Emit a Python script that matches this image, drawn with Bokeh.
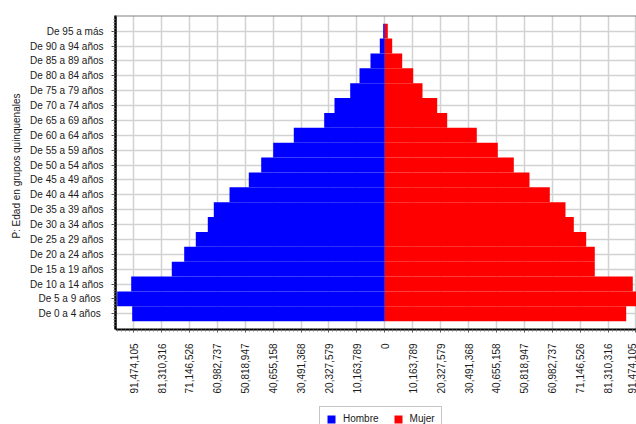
import math
from bokeh.plotting import figure
from bokeh.models import (Range1d, FixedTicker, CustomJSTickFormatter, Legend, LegendItem,
                          Span, BoxAnnotation, Title)
from bokeh.embed import file_html
from bokeh.resources import INLINE

# ---- data ----
age_groups = ["De 0  a 4 años", "De 5  a 9 años", "De 10 a 14 años", "De 15 a 19 años",
              "De 20 a 24 años", "De 25 a 29 años", "De 30 a 34 años", "De 35 a 39 años",
              "De 40 a 44 años", "De 45 a 49 años", "De 50 a 54 años", "De 55 a 59 años",
              "De 60 a 64 años", "De 65 a 69 años", "De 70 a 74 años", "De 75 a 79 años",
              "De 80 a 84 años", "De 85 a 89 años", "De 90 a 94 años", "De 95 a más"]
hombre = [91990000, 97450000, 92350000, 77570000, 73050000, 68830000, 64460000, 62270000,
          56550000, 49530000, 45010000, 40640000, 33140000, 22070000, 18320000, 12600000,
          9210000, 5210000, 1820000, 580000]
mujer = [87910000, 93950000, 90310000, 76470000, 76470000, 73340000, 68830000, 65800000,
         60090000, 52690000, 46980000, 41150000, 33500000, 22720000, 19080000, 13730000,
         10340000, 6340000, 2690000, 1090000]
tick_step = 10163789.44
tick_labels = ["0", "10,163,789", "20,327,579", "30,491,368", "40,655,158", "50,818,947",
               "60,982,737", "71,146,526", "81,310,316", "91,474,105"]
y_title = "P: Edad en grupos quinquenales"
series_names = ["Hombre", "Mujer"]
series_colors = ["#0000FF", "#FF0000"]

FONT = "Liberation Sans"
idx = list(range(len(age_groups)))
Y_LO, Y_HI = -1.05, 20.05          # plotted band of the pyramid
Y_START = -7.44                     # extra room below for tick labels + legend

p = figure(width=636, height=424, output_backend="svg", toolbar_location=None,
           x_range=Range1d(-98069000, 91660000), y_range=Range1d(Y_START, Y_HI),
           min_border_left=115, min_border_right=0, min_border_top=15, min_border_bottom=0)

r_h = p.hbar(y=idx, left=[-v for v in hombre], right=0, height=1.0,
             color=series_colors[0], line_color=None)
r_m = p.hbar(y=idx, left=0, right=mujer, height=1.0,
             color=series_colors[1], line_color=None)

p.outline_line_color = None
p.background_fill_color = "white"
p.border_fill_color = "white"

# x axis (fixed at the bottom of the pyramid band)
nt = len(tick_labels)
xt = [k * tick_step for k in range(-(nt - 1), nt)]
xminor = []
for k in range(-(nt), nt):
    for j in range(1, 7):
        xminor.append((k + j / 7.0) * tick_step)
p.xaxis.fixed_location = Y_LO
p.xaxis.ticker = FixedTicker(ticks=xt, minor_ticks=xminor)
p.xaxis.formatter = CustomJSTickFormatter(args=dict(labels=tick_labels, step=tick_step),
    code="const i = Math.round(Math.abs(tick)/step); return labels[i];")
p.xaxis.major_label_orientation = math.pi / 2
p.xaxis.major_label_text_font = FONT
p.xaxis.major_label_text_font_size = "10px"
p.xaxis.major_label_text_color = "#1a1a1a"
p.xaxis.major_label_standoff = 11
p.xaxis.axis_line_color = "black"
p.xaxis.axis_line_width = 2
p.xaxis.major_tick_out = 3
p.xaxis.major_tick_in = 0
p.xaxis.minor_tick_out = 2
p.xaxis.minor_tick_in = 0
p.xaxis.major_tick_line_color = "#555555"
p.xaxis.minor_tick_line_color = "#777777"

# y axis
yminor = []
for i in range(-1, len(age_groups) + 1):
    for j in range(1, 5):
        yminor.append(i + j / 5.0)
p.yaxis.bounds = (Y_LO, Y_HI)
p.yaxis.ticker = FixedTicker(ticks=idx, minor_ticks=yminor)
p.yaxis.major_label_overrides = {i: lab for i, lab in enumerate(age_groups)}
p.yaxis.major_label_text_font = FONT
p.yaxis.major_label_text_font_size = "10px"
p.yaxis.major_label_text_color = "#1a1a1a"
p.yaxis.major_label_standoff = 8
p.yaxis.axis_line_color = "black"
p.yaxis.axis_line_width = 2.5
p.yaxis.major_tick_out = 4
p.yaxis.major_tick_in = 0
p.yaxis.minor_tick_out = 2
p.yaxis.minor_tick_in = 0
p.yaxis.major_tick_line_color = "#555555"
p.yaxis.minor_tick_line_color = "#777777"

# y axis title, placed along the pyramid band
p.add_layout(Title(text=y_title, align="right", offset=78, standoff=12,
                   text_font=FONT, text_font_size="10px", text_font_style="normal",
                   text_color="#1a1a1a"), "left")

# grid
p.xgrid.ticker = FixedTicker(ticks=xt)
p.ygrid.ticker = FixedTicker(ticks=idx)
for g in (p.xgrid, p.ygrid):
    g.grid_line_color = "#d2d2d2"
    g.grid_line_width = 1.5

# white cover below the pyramid band (hides grid lines under the x axis)
p.add_layout(BoxAnnotation(top=Y_LO, fill_color="white", fill_alpha=1.0,
                           line_color=None, level="underlay"))

# top border
p.add_layout(Span(location=Y_HI, dimension="width", line_color="#808080", line_width=2))

legend = Legend(items=[LegendItem(label=series_names[0], renderers=[r_h]),
                       LegendItem(label=series_names[1], renderers=[r_m])],
                orientation="horizontal", location=(204, -7), margin=0, padding=6,
                spacing=14, label_standoff=7, glyph_width=10, glyph_height=10,
                label_height=11, label_text_font=FONT, label_text_font_size="10px",
                label_text_color="#1a1a1a", border_line_color="#8c8c8c",
                border_line_width=1, background_fill_color="white", background_fill_alpha=1)
p.add_layout(legend)

open("out.html", "w").write(file_html(p, INLINE))
